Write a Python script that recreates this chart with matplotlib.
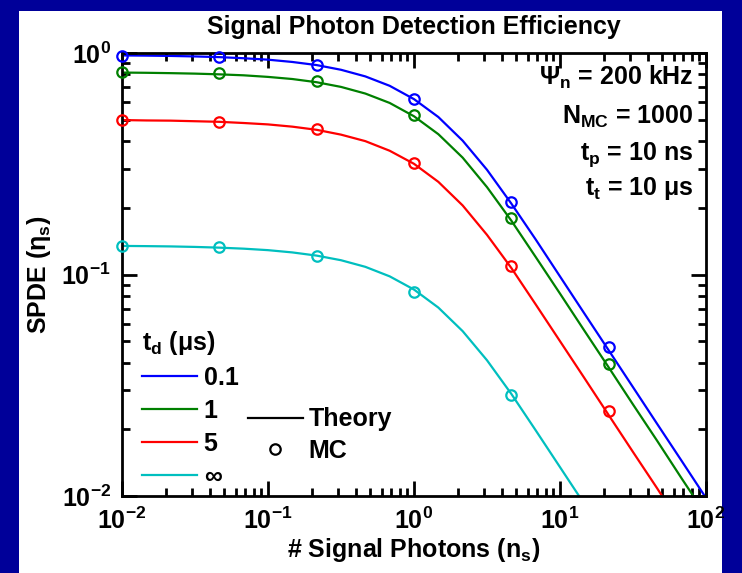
import matplotlib
matplotlib.use("Agg")
import matplotlib.pyplot as plt
from matplotlib.patches import Rectangle
from matplotlib.lines import Line2D

plt.rcParams["font.family"] = ["Liberation Sans", "DejaVu Sans"]
plt.rcParams["font.weight"] = "bold"
plt.rcParams["mathtext.fontset"] = "custom"
plt.rcParams["mathtext.rm"] = "Liberation Sans:bold"
plt.rcParams["mathtext.it"] = "Liberation Sans:bold"
plt.rcParams["mathtext.bf"] = "Liberation Sans:bold"
plt.rcParams["mathtext.sf"] = "Liberation Sans:bold"

# photon counts (theory grid, 6 points per decade)
n_theory = [0.01, 0.01468, 0.02154, 0.03162, 0.04642, 0.06813, 0.1, 0.1468,
            0.2154, 0.3162, 0.4642, 0.6813, 1.0, 1.468, 2.154, 3.162, 4.642,
            6.813, 10.0, 14.68, 21.54, 31.62, 46.42, 68.13, 100.0]

# theory SPDE for each dead time
theory_01 = [0.975, 0.973, 0.970, 0.965, 0.958, 0.947, 0.933, 0.911, 0.882,
             0.840, 0.784, 0.711, 0.619, 0.514, 0.402, 0.297, 0.209, 0.144,
             0.098, 0.0667, 0.0455, 0.0310, 0.0211, 0.0144, 0.0098]
theory_1 = [0.816, 0.814, 0.811, 0.807, 0.801, 0.793, 0.780, 0.763, 0.738,
            0.703, 0.656, 0.595, 0.518, 0.430, 0.337, 0.248, 0.175, 0.120,
            0.082, 0.0558, 0.0381, 0.0259, 0.0177, 0.0120, 0.0082]
theory_5 = [0.498, 0.496, 0.495, 0.492, 0.489, 0.483, 0.476, 0.465, 0.450,
            0.428, 0.400, 0.362, 0.316, 0.262, 0.205, 0.151, 0.107, 0.0733,
            0.050, 0.0341, 0.0232, 0.0158, 0.0108, 0.0073, 0.0050]
theory_inf = [0.1346, 0.1343, 0.1339, 0.1332, 0.1322, 0.1308, 0.1288, 0.1258,
              0.1217, 0.1160, 0.1083, 0.0981, 0.0855, 0.0709, 0.0555, 0.0410,
              0.0289, 0.0198, 0.0135, 0.0092, 0.0063, 0.0043, 0.0029, 0.0020,
              0.00135]

# Monte Carlo runs
n_mc = [0.01, 0.04642, 0.2154, 1.0, 4.642, 21.54]
mc_01 = [0.970, 0.955, 0.885, 0.622, 0.212, 0.047]
mc_1 = [0.822, 0.810, 0.745, 0.525, 0.179, 0.0395]
mc_5 = [0.500, 0.490, 0.453, 0.318, 0.109, 0.0243]
mc_inf = [0.1345, 0.1328, 0.121, 0.0838, 0.0287]

labels = ["0.1", "1", "5", "\u221e"]
colors = ["#0000ff", "#008000", "#ff0000", "#00bfbf"]

fig = plt.figure(figsize=(7.42, 5.73), dpi=100)
fig.patch.set_facecolor("#000099")
fig.add_artist(Rectangle((19 / 742, 0), (722 - 19) / 742, (573 - 11) / 573,
                         transform=fig.transFigure, facecolor="white",
                         edgecolor="none", zorder=-10))

ax = fig.add_axes([122 / 742, 1 - 496 / 573, 584 / 742, 443 / 573])

series = [(theory_01, mc_01), (theory_1, mc_1), (theory_5, mc_5),
          (theory_inf, mc_inf)]
for (th, mc), c in zip(series, colors):
    ax.plot(n_theory, th, color=c, lw=1.6)
    ax.plot(n_mc[:len(mc)], mc, "o", mfc="none", mec=c, mew=1.6, ms=7.5,
            clip_on=False, zorder=3)

ax.set_xscale("log")
ax.set_yscale("log")
ax.set_xlim(1e-2, 1e2)
ax.set_ylim(1e-2, 1e0)

for s in ax.spines.values():
    s.set_linewidth(2)
ax.tick_params(which="both", direction="in", top=True, right=True,
               width=2, labelsize=18, pad=8)
ax.tick_params(which="major", length=11)
ax.tick_params(which="minor", length=5.5)

ax.set_title("Signal Photon Detection Efficiency", fontsize=18,
             fontweight="bold", pad=14)
ax.set_xlabel(r"# Signal Photons (n$_s$)", fontsize=18, fontweight="bold",
              labelpad=2)
ax.set_ylabel(r"SPDE ($\eta_s$)", fontsize=18, fontweight="bold", labelpad=6)

info = [(0.928, r"$\Psi_n$ = 200 kHz"),
        (0.840, r"N$_{MC}$ = 1000"),
        (0.758, r"t$_p$ = 10 ns"),
        (0.679, r"t$_t$ = 10 $\mu$s")]
for y, s in info:
    ax.text(0.978, y, s, transform=ax.transAxes, ha="right",
            va="baseline", fontsize=18, fontweight="bold")

# dead-time legend
handles = [Line2D([], [], color=c, lw=1.6) for c in colors]
leg1 = ax.legend(handles, labels, title=r"t$_d$ ($\mu$s)", loc="upper left",
                 bbox_to_anchor=(0.035, 0.378), frameon=False, fontsize=18,
                 title_fontsize=18, alignment="left", handlelength=2.2,
                 handletextpad=0.25, labelspacing=0.36, borderaxespad=0,
                 borderpad=0)
ax.add_artist(leg1)

# line/marker style legend
kind = [Line2D([], [], color="k", lw=1.6),
        Line2D([], [], ls="none", marker="o", mfc="none", mec="k",
               mew=1.6, ms=7.5)]
ax.legend(kind, ["Theory", "MC"], loc="upper left",
          bbox_to_anchor=(0.215, 0.2), frameon=False, fontsize=18,
          handlelength=2.2, handletextpad=0.25, labelspacing=0.3,
          borderaxespad=0, borderpad=0)

fig.savefig("out.png", dpi=100, facecolor=fig.get_facecolor())
